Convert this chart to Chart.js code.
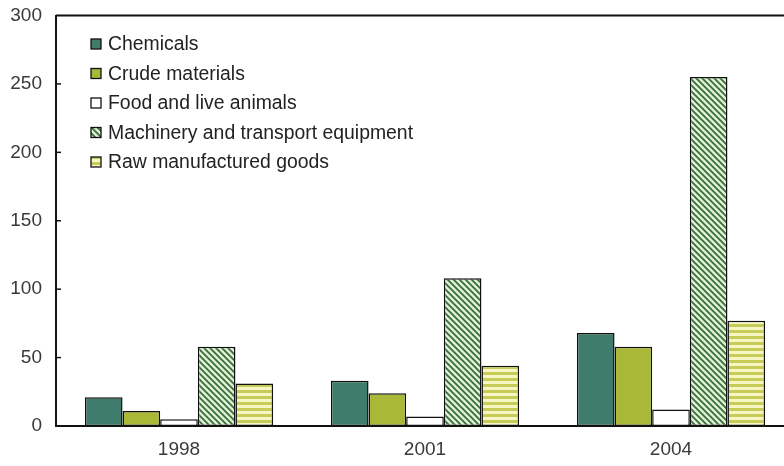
<!DOCTYPE html>
<html>
<head>
<meta charset="utf-8">
<script src="https://cdn.jsdelivr.net/npm/chart.js@4/dist/chart.umd.min.js"></script>
<style>
  html, body { margin: 0; padding: 0; background: #fff; overflow: hidden; }
  #wrap { width: 800px; height: 466px; }
</style>
</head>
<body>
<div id="wrap"><canvas id="chart"></canvas></div>
<script>
const years = ['1998', '2001', '2004']
const seriesNames = ['Chemicals', 'Crude materials', 'Food and live animals',
  'Machinery and transport equipment', 'Raw manufactured goods']
const chemicals = [21, 33, 68]
const crude = [11, 24, 58]
const food = [5, 7, 12]
const machinery = [58, 108, 255]
const rawGoods = [31, 44, 77]
const yTicks = [0, 50, 100, 150, 200, 250, 300]

const FONT = '"Liberation Sans", Arial, sans-serif'

// hatch patterns
function hatch(bg, fg) {
  const c = document.createElement('canvas')
  c.width = 6; c.height = 6
  const g = c.getContext('2d')
  g.fillStyle = bg; g.fillRect(0, 0, 6, 6)
  g.strokeStyle = fg; g.lineWidth = 1.8
  g.beginPath()
  g.moveTo(-1, -1); g.lineTo(7, 7)
  g.moveTo(-1, 5); g.lineTo(1, 7)
  g.moveTo(5, -1); g.lineTo(7, 1)
  g.stroke()
  return g.createPattern(c, 'repeat')
}
function stripes(bg, fg) {
  const c = document.createElement('canvas')
  c.width = 6; c.height = 6
  const g = c.getContext('2d')
  g.fillStyle = bg; g.fillRect(0, 0, 6, 6)
  g.fillStyle = fg; g.fillRect(0, 0, 6, 3)
  return g.createPattern(c, 'repeat')
}

const fills = ['#3f7c6c', '#a9b836', '#ffffff',
  hatch('#e2f0d2', '#356d3c'), stripes('#f6f5c4', '#c7cc58')]
const values = [chemicals, crude, food, machinery, rawGoods]

const frame = {
  id: 'frame',
  afterDraw(chart) {
    const {ctx, chartArea: a, scales: {y}} = chart
    ctx.save()
    ctx.strokeStyle = '#111'
    ctx.lineWidth = 2
    ctx.beginPath()
    ctx.moveTo(a.left, a.top); ctx.lineTo(a.right, a.top)
    ctx.stroke()
    // inward ticks
    ctx.lineWidth = 1.5
    yTicks.slice(1, -1).forEach(v => {
      const py = y.getPixelForValue(v)
      ctx.beginPath(); ctx.moveTo(a.left, py); ctx.lineTo(a.left + 5, py); ctx.stroke()
    })
    // legend
    ctx.font = '19.4px ' + FONT
    ctx.textBaseline = 'middle'
    seriesNames.forEach((name, i) => {
      const cy = 44 + i * 29.5
      ctx.fillStyle = fills[i]
      ctx.fillRect(91, cy - 5, 10, 10)
      ctx.lineWidth = 1.3
      ctx.strokeStyle = '#111'
      ctx.strokeRect(91, cy - 5, 10, 10)
      ctx.fillStyle = '#222'
      ctx.fillText(name, 108, cy + 1)
    })
    ctx.restore()
  }
}

new Chart(document.getElementById('chart'), {
  type: 'bar',
  data: {
    labels: years,
    datasets: seriesNames.map((name, i) => ({
      label: name,
      data: values[i],
      backgroundColor: fills[i],
      borderColor: '#111',
      borderWidth: 1.5,
      borderSkipped: false,
      barPercentage: 1,
      categoryPercentage: 0.765
    }))
  },
  options: {
    responsive: true,
    maintainAspectRatio: false,
    animation: false,
    layout: { padding: { top: 2, right: 6 } },
    plugins: { legend: { display: false }, tooltip: { enabled: false } },
    scales: {
      x: {
        grid: { display: false },
        border: { display: true, color: '#111', width: 2 },
        ticks: { color: '#3a3a3a', font: { size: 19, family: FONT }, padding: 4 },
        afterFit: s => { s.height = 40 }
      },
      y: {
        min: 0, max: 300,
        grid: { display: false },
        border: { display: true, color: '#111', width: 2 },
        ticks: { stepSize: 50, color: '#3a3a3a', padding: 6,
          font: { size: 19, family: FONT, lineHeight: 1 } },
        afterFit: s => { s.width = 56 }
      }
    }
  },
  plugins: [frame]
})
</script>
</body>
</html>
